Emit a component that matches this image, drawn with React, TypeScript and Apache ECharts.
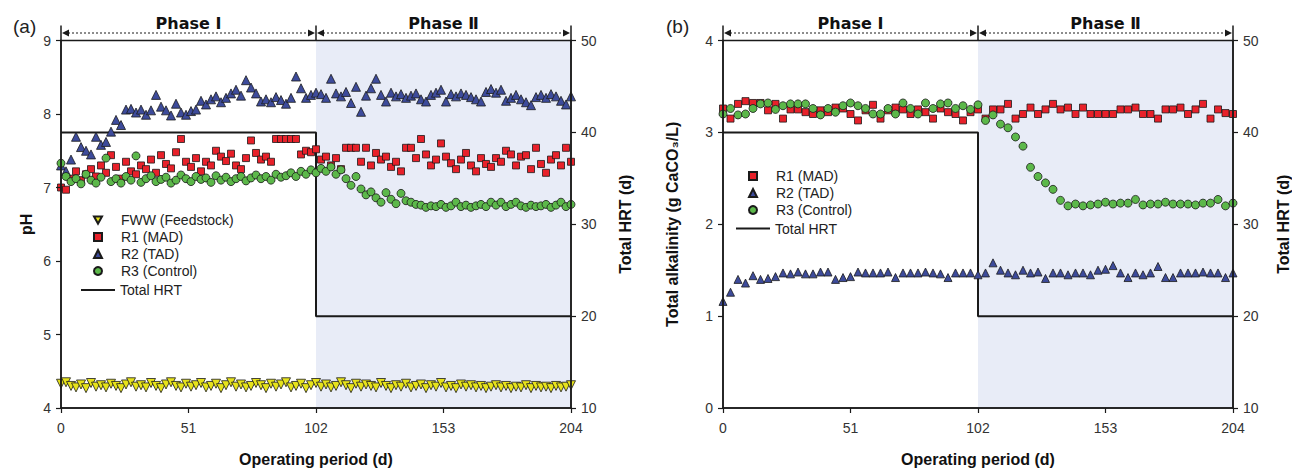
import React, { useEffect, useRef } from 'react';
import * as echarts from 'echarts';

// ---------- data ----------
// (a) pH, sampled every 2 days from day 0 to 204
const PH_STEP = 2;
const fwwPH = [
  4.33, 4.35, 4.30, 4.28, 4.32, 4.27, 4.34, 4.29, 4.31, 4.28,
  4.33, 4.30, 4.27, 4.32, 4.35, 4.29, 4.31, 4.28, 4.34, 4.30,
  4.27, 4.32, 4.35, 4.30, 4.28, 4.33, 4.29, 4.31, 4.34, 4.28,
  4.30, 4.33, 4.27, 4.31, 4.35, 4.29, 4.32, 4.28, 4.30, 4.34,
  4.31, 4.27, 4.33, 4.29, 4.32, 4.35, 4.28, 4.30, 4.33, 4.27,
  4.31, 4.34, 4.29, 4.32, 4.28, 4.30, 4.35, 4.31, 4.27, 4.33,
  4.29, 4.32, 4.30, 4.28, 4.34, 4.30, 4.27, 4.31, 4.29, 4.33,
  4.28, 4.30, 4.32, 4.27, 4.31, 4.29, 4.34, 4.28, 4.30, 4.27,
  4.32, 4.29, 4.31, 4.28, 4.30, 4.27, 4.29, 4.31, 4.28, 4.30,
  4.27, 4.29, 4.28, 4.31, 4.27, 4.30, 4.28, 4.29, 4.27, 4.30,
  4.28, 4.29, 4.31,
];
const r1PH = [
  7.00, 6.97, 7.12, 7.22, 7.10, 7.18, 7.25, 7.15, 7.30, 7.20,
  7.44, 7.28, 7.12, 7.35, 7.22, 7.18, 7.30, 7.25, 7.38, 7.20,
  7.44, 7.32, 7.26, 7.48, 7.66, 7.35, 7.28, 7.40, 7.22, 7.35,
  7.30, 7.50, 7.42, 7.36, 7.46, 7.30, 7.25, 7.40, 7.64, 7.47,
  7.38, 7.42, 7.35, 7.66, 7.66, 7.66, 7.66, 7.66, 7.45, 7.50,
  7.48, 7.52, 7.38, 7.42, 7.30, 7.40, 7.25, 7.54, 7.54, 7.54,
  7.35, 7.54, 7.30, 7.47, 7.38, 7.42, 7.28, 7.35, 7.22, 7.54,
  7.54, 7.40, 7.66, 7.45, 7.30, 7.38, 7.60, 7.42, 7.33, 7.25,
  7.38, 7.47, 7.30, 7.22, 7.40, 7.32, 7.28, 7.40, 7.35, 7.50,
  7.45, 7.30, 7.42, 7.44, 7.25, 7.54, 7.32, 7.20, 7.38, 7.44,
  7.30, 7.54, 7.35,
];
const r2PH = [
  7.30, 7.22, 7.38, 7.69, 7.55, 7.50, 7.45, 7.69, 7.58, 7.62,
  7.76, 7.92, 7.85, 8.06, 8.07, 8.02, 8.06, 7.99, 8.05, 8.26,
  8.10, 8.05, 7.98, 8.14, 8.02, 7.99, 8.04, 8.06, 8.18, 8.13,
  8.20, 8.24, 8.16, 8.22, 8.28, 8.33, 8.25, 8.46, 8.36, 8.28,
  8.17, 8.20, 8.16, 8.23, 8.19, 8.14, 8.22, 8.51, 8.35, 8.22,
  8.26, 8.29, 8.27, 8.22, 8.48, 8.28, 8.24, 8.30, 8.15, 8.37,
  8.03, 8.25, 8.35, 8.48, 8.26, 8.17, 8.29, 8.24, 8.27, 8.22,
  8.25, 8.28, 8.20, 8.17, 8.26, 8.29, 8.33, 8.17, 8.27, 8.24,
  8.28, 8.26, 8.23, 8.20, 8.17, 8.30, 8.34, 8.29, 8.33, 8.18,
  8.22, 8.26, 8.20, 8.16, 8.12, 8.23, 8.26, 8.22, 8.27, 8.24,
  8.18, 8.13, 8.24,
];
const r3PH = [
  7.33, 7.15, 7.08, 7.12, 7.05, 7.18, 7.10, 7.06, 7.14, 7.40,
  7.08, 7.12, 7.06, 7.15, 7.10, 7.43, 7.07, 7.12, 7.16, 7.08,
  7.11, 7.14, 7.06, 7.10, 7.17, 7.12, 7.08, 7.15, 7.11, 7.13,
  7.07, 7.16, 7.10, 7.14, 7.08, 7.12, 7.15, 7.09, 7.13, 7.17,
  7.12, 7.15, 7.10, 7.18, 7.14, 7.16, 7.20, 7.15, 7.22, 7.18,
  7.24, 7.20, 7.26, 7.22, 7.28, 7.18, 7.24, 7.12, 7.03, 7.15,
  6.98, 6.90, 6.94, 6.86, 6.80, 6.93, 6.84, 6.78, 6.92, 6.82,
  6.80, 6.77, 6.76, 6.73, 6.75, 6.74, 6.77, 6.73, 6.75, 6.80,
  6.74, 6.76, 6.73, 6.75, 6.77, 6.74, 6.80, 6.76, 6.80, 6.74,
  6.77, 6.80, 6.75, 6.73, 6.76, 6.74, 6.75, 6.77, 6.73, 6.76,
  6.80, 6.74, 6.77,
];

// (b) total alkalinity (g CaCO3/L), sampled every 3 days from day 0 to 204
const ALK_STEP = 3;
const r1Alk = [
  3.26, 3.15, 3.31, 3.34, 3.32, 3.32, 3.24, 3.31, 3.15, 3.25,
  3.25, 3.22, 3.20, 3.24, 3.22, 3.27, 3.26, 3.20, 3.13, 3.24,
  3.30, 3.15, 3.24, 3.27, 3.25, 3.20, 3.25, 3.22, 3.15, 3.26,
  3.22, 3.20, 3.13, 3.22, 3.25, 3.15, 3.25, 3.25, 3.31, 3.15,
  3.20, 3.27, 3.20, 3.25, 3.31, 3.25, 3.27, 3.20, 3.27, 3.20,
  3.20, 3.20, 3.20, 3.25, 3.25, 3.27, 3.20, 3.20, 3.15, 3.25,
  3.25, 3.27, 3.20, 3.25, 3.31, 3.15, 3.25, 3.21, 3.20,
];
const r2Alk = [
  1.16, 1.26, 1.40, 1.36, 1.44, 1.40, 1.41, 1.43, 1.47, 1.46,
  1.48, 1.46, 1.46, 1.48, 1.48, 1.40, 1.42, 1.43, 1.48, 1.47,
  1.47, 1.47, 1.48, 1.42, 1.47, 1.47, 1.47, 1.48, 1.47, 1.46,
  1.42, 1.47, 1.47, 1.47, 1.45, 1.47, 1.58, 1.50, 1.47, 1.45,
  1.50, 1.47, 1.48, 1.41, 1.47, 1.47, 1.45, 1.47, 1.47, 1.45,
  1.50, 1.51, 1.55, 1.47, 1.42, 1.47, 1.45, 1.47, 1.54, 1.42,
  1.42, 1.47, 1.47, 1.47, 1.48, 1.47, 1.47, 1.42, 1.47,
];
const r3Alk = [
  3.20, 3.26, 3.19, 3.20, 3.26, 3.31, 3.32, 3.25, 3.29, 3.31,
  3.31, 3.31, 3.26, 3.19, 3.26, 3.22, 3.29, 3.32, 3.29, 3.26,
  3.20, 3.20, 3.26, 3.20, 3.32, 3.26, 3.20, 3.32, 3.26, 3.31,
  3.32, 3.26, 3.29, 3.25, 3.30, 3.13, 3.19, 3.09, 3.05, 2.95,
  2.85, 2.62, 2.52, 2.45, 2.38, 2.26, 2.20, 2.22, 2.20, 2.21,
  2.22, 2.24, 2.22, 2.23, 2.23, 2.27, 2.21, 2.22, 2.22, 2.24,
  2.22, 2.22, 2.22, 2.21, 2.23, 2.23, 2.27, 2.20, 2.23,
];

// Total HRT step line (d)
const hrtDays = [0, 102, 102, 204];
const hrtValues = [40, 40, 20, 20];

// phases
const phaseBounds = [0, 102, 204];
const phaseLabels = ['Phase Ⅰ', 'Phase Ⅱ'];

const X_MIN = 0;
const X_MAX = 204;
const X_INTERVAL = 51;

const NAMES = {
  fww: 'FWW (Feedstock)',
  r1: 'R1 (MAD)',
  r2: 'R2 (TAD)',
  r3: 'R3 (Control)',
  hrt: 'Total HRT',
};

// ---------- styles ----------
const FONT = '"Liberation Sans", Arial, sans-serif';
const INK = '#1a1a1a';
const COLORS = {
  fww: '#e6e21c',
  r1: '#e8212a',
  r2: '#3d4b9b',
  r3: '#5cb84a',
  band: '#e8ecf7',
};
const DOWN_TRIANGLE = 'path://M0,0 L10,0 L5,9 Z';

const pairs = (vals: number[], step: number) => vals.map((v, i) => [i * step, v]);

function scatter(name: string, data: number[][], gi: number, yi: number, symbol: string, size: number, color: string, rotate = 0) {
  return {
    type: 'scatter',
    name,
    xAxisIndex: gi,
    yAxisIndex: yi,
    data,
    symbol,
    symbolSize: size,
    symbolRotate: rotate,
    z: 3,
    itemStyle: { color, borderColor: INK, borderWidth: 0.8, opacity: 1 },
    silent: true,
  };
}

function hrtSeries(gi: number, yi: number) {
  return {
    type: 'line',
    name: NAMES.hrt,
    xAxisIndex: gi,
    yAxisIndex: yi,
    data: hrtDays.map((d, i) => [d, hrtValues[i]]),
    symbol: 'none',
    showSymbol: false,
    z: 2,
    lineStyle: { color: INK, width: 2 },
    itemStyle: { color: 'rgba(0,0,0,0)', borderWidth: 0 },
    silent: true,
    markArea: {
      silent: true,
      z: 1,
      itemStyle: { color: COLORS.band },
      data: [[{ xAxis: phaseBounds[1] }, { xAxis: phaseBounds[2] }]],
    },
  };
}

const axisLine = { show: true, lineStyle: { color: INK, width: 1.5 } };
const axisTick = { show: true, inside: false, length: 5, lineStyle: { color: INK, width: 1.2 } };
const labelStyle = { fontFamily: FONT, fontSize: 14, color: '#333' };
const nameStyle = { fontFamily: FONT, fontSize: 16, fontWeight: 'bold', color: '#111' };

function xAxis(gi: number) {
  return {
    type: 'value',
    gridIndex: gi,
    min: X_MIN,
    max: X_MAX,
    interval: X_INTERVAL,
    name: 'Operating period (d)',
    nameLocation: 'middle',
    nameGap: 43,
    nameTextStyle: nameStyle,
    axisLine,
    axisTick,
    axisLabel: { ...labelStyle, margin: 13 },
    splitLine: { show: false },
    z: 6,
  };
}

function yAxis(gi: number, position: string, min: number, max: number, interval: number, name: string, gap: number) {
  return {
    type: 'value',
    gridIndex: gi,
    position,
    min,
    max,
    interval,
    name,
    nameLocation: 'middle',
    nameGap: gap,
    nameTextStyle: nameStyle,
    axisLine,
    axisTick,
    axisLabel: { ...labelStyle, margin: 10 },
    splitLine: { show: false },
    z: 6,
  };
}

const legendText = { fontFamily: FONT, fontSize: 14, color: '#222' };
const ROW = 17.5;

function markerLegend(names: any[], iconCenterX: number, top: number) {
  return {
    data: names,
    orient: 'vertical',
    left: iconCenterX - 4 - 5,
    top,
    itemWidth: 8,
    itemHeight: 8,
    itemGap: 3,
    textStyle: { ...legendText, padding: [0, 0, 0, 14] },
    selectedMode: false,
  };
}

function lineLegend(left: number, top: number) {
  return {
    data: [NAMES.hrt],
    orient: 'vertical',
    left: left - 5,
    top,
    itemWidth: 34,
    itemHeight: 8,
    textStyle: legendText,
    selectedMode: false,
  };
}

const gridBase = {
  top: 40.5,
  width: 510,
  height: 367.5,
  show: true,
  borderColor: INK,
  borderWidth: 1.5,
  backgroundColor: 'transparent',
  containLabel: false,
  outerBoundsMode: 'none',
  z: 5,
};

export default function App() {
  const ref = useRef<HTMLDivElement>(null);

  useEffect(() => {
    if (!ref.current) return;
    const chart = echarts.init(ref.current, undefined, { renderer: 'svg' });

    const option: any = {
      animation: false,
      backgroundColor: '#ffffff',
      title: [
        { text: '(a)', left: 13, top: 17, padding: 0, textStyle: { fontFamily: FONT, fontSize: 19, fontWeight: 'normal', color: '#222' } },
        { text: '(b)', left: 666, top: 17, padding: 0, textStyle: { fontFamily: FONT, fontSize: 19, fontWeight: 'normal', color: '#222' } },
      ],
      grid: [
        { ...gridBase, left: 61 },
        { ...gridBase, left: 723 },
      ],
      xAxis: [xAxis(0), xAxis(1)],
      yAxis: [
        yAxis(0, 'left', 4, 9, 1, 'pH', 27),
        yAxis(0, 'right', 10, 50, 10, 'Total HRT (d)', 46),
        yAxis(1, 'left', 0, 4, 1, 'Total alkalinity (g CaCO₃/L)', 43),
        yAxis(1, 'right', 10, 50, 10, 'Total HRT (d)', 42),
      ],
      legend: [
        markerLegend([{ name: NAMES.fww, icon: DOWN_TRIANGLE }, NAMES.r1, NAMES.r2, NAMES.r3], 97, 208),
        lineLegend(80, 208 + 4 * ROW),
        markerLegend([NAMES.r1, NAMES.r2, NAMES.r3], 752, 164),
        lineLegend(735, 164 + 3 * ROW),
      ],
      series: [
        hrtSeries(0, 1),
        scatter(NAMES.fww, pairs(fwwPH, PH_STEP), 0, 0, 'triangle', 9, COLORS.fww, 180),
        scatter(NAMES.r1, pairs(r1PH, PH_STEP), 0, 0, 'rect', 7, COLORS.r1),
        scatter(NAMES.r2, pairs(r2PH, PH_STEP), 0, 0, 'triangle', 9, COLORS.r2),
        scatter(NAMES.r3, pairs(r3PH, PH_STEP), 0, 0, 'circle', 8, COLORS.r3),
        hrtSeries(1, 3),
        scatter(NAMES.r1, pairs(r1Alk, ALK_STEP), 1, 2, 'rect', 7, COLORS.r1),
        scatter(NAMES.r2, pairs(r2Alk, ALK_STEP), 1, 2, 'triangle', 8, COLORS.r2),
        scatter(NAMES.r3, pairs(r3Alk, ALK_STEP), 1, 2, 'circle', 8, COLORS.r3),
      ],
    };
    chart.setOption(option);

    // phase annotations above each plot
    const graphics: any[] = [];
    const yMaxes = [9, 4];
    [0, 1].forEach((gi) => {
      const px = (d: number) => chart.convertToPixel({ xAxisIndex: gi } as any, d) as unknown as number;
      const top = chart.convertToPixel({ yAxisIndex: gi * 2 } as any, yMaxes[gi]) as unknown as number;
      const ay = top - 7.5;
      phaseBounds.forEach((d) => {
        const x = px(d);
        graphics.push({ type: 'line', silent: true, shape: { x1: x, y1: top - 15, x2: x, y2: top }, style: { stroke: INK, lineWidth: 1.5 } });
      });
      for (let p = 0; p < phaseLabels.length; p++) {
        const xa = px(phaseBounds[p]);
        const xb = px(phaseBounds[p + 1]);
        graphics.push({ type: 'line', silent: true, shape: { x1: xa + 7, y1: ay, x2: xb - 7, y2: ay }, style: { stroke: INK, lineWidth: 1, lineDash: [2, 2] } });
        graphics.push({ type: 'polygon', silent: true, shape: { points: [[xa + 1, ay], [xa + 8, ay - 3.5], [xa + 8, ay + 3.5]] }, style: { fill: INK } });
        graphics.push({ type: 'polygon', silent: true, shape: { points: [[xb - 1, ay], [xb - 8, ay - 3.5], [xb - 8, ay + 3.5]] }, style: { fill: INK } });
        graphics.push({
          type: 'text',
          silent: true,
          x: (xa + xb) / 2,
          y: top - 17,
          style: {
            text: phaseLabels[p],
            fill: '#111',
            font: 'bold 16px "DejaVu Sans", Verdana, sans-serif',
            align: 'center',
            verticalAlign: 'middle',
            textAlign: 'center',
            textVerticalAlign: 'middle',
          },
        });
      }
    });
    chart.setOption({ graphic: graphics });

    return () => chart.dispose();
  }, []);

  return <div ref={ref} style={{ position: 'absolute', left: 0, top: 0, width: 1292, height: 468 }} />;
}
